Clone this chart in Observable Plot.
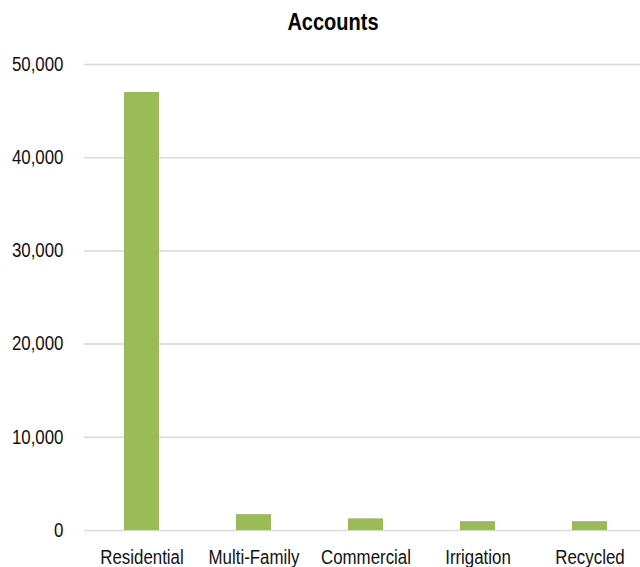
<!DOCTYPE html>
<html>
<head>
<meta charset="utf-8">
<script src="https://cdn.jsdelivr.net/npm/d3@7"></script>
<script src="https://cdn.jsdelivr.net/npm/@observablehq/plot@0.6"></script>
<style>
  body { margin: 0; background: #fff; }
  #wrap { position: relative; width: 640px; height: 567px; overflow: hidden; }
  #title {
    position: absolute; left: 0; top: 10.5px; width: 666px; text-align: center;
    font: bold 23px/23px "Liberation Sans", Arial, sans-serif;
    color: #000; z-index: 2;
    transform: scaleX(0.87); transform-origin: 333px 0;
  }
  #chart { position: absolute; left: 0; top: 0; }
</style>
</head>
<body>
<div id="wrap">
  <div id="title">Accounts</div>
  <div id="chart"></div>
</div>
<script>
const categories = ["Residential", "Multi-Family", "Commercial", "Irrigation", "Recycled"];
const accounts = [47000, 1700, 1250, 950, 950];
const yTicks = [0, 10000, 20000, 30000, 40000, 50000];

const data = categories.map((c, i) => ({category: c, value: accounts[i]}));

const plot = Plot.plot({
  width: 640,
  height: 567,
  marginTop: 64,
  marginBottom: 37,
  marginLeft: 84,
  marginRight: 0,
  style: {
    fontFamily: '"Liberation Sans", Arial, sans-serif',
    fontSize: "19.4px",
    color: "#111",
    background: "#fff"
  },
  x: {domain: categories, range: [84, 646.5], paddingInner: 0.684, paddingOuter: 0.342, align: 0.5, label: null},
  y: {domain: [0, 50000], label: null},
  marks: [
    Plot.ruleY(yTicks, {stroke: "#d9d9d9", strokeWidth: 1.5}),
    Plot.barY(data, {x: "category", y: "value", fill: "#9bbb59"}),
    Plot.axisY(yTicks, {tickSize: 0, tickPadding: 21, tickFormat: d3.format(","), label: null}),
    Plot.axisX({tickSize: 0, tickPadding: 19.5, label: null})
  ]
});
// condense text horizontally around each label's anchor point (x only)
plot.querySelectorAll("text").forEach(t => {
  const ax = parseFloat(t.getAttribute("x")) || 0;
  const tr = t.getAttribute("transform") || "";
  t.setAttribute("transform", `${tr} translate(${ax},0) scale(0.87,1) translate(${-ax},0)`);
});
document.getElementById("chart").appendChild(plot);
</script>
</body>
</html>
